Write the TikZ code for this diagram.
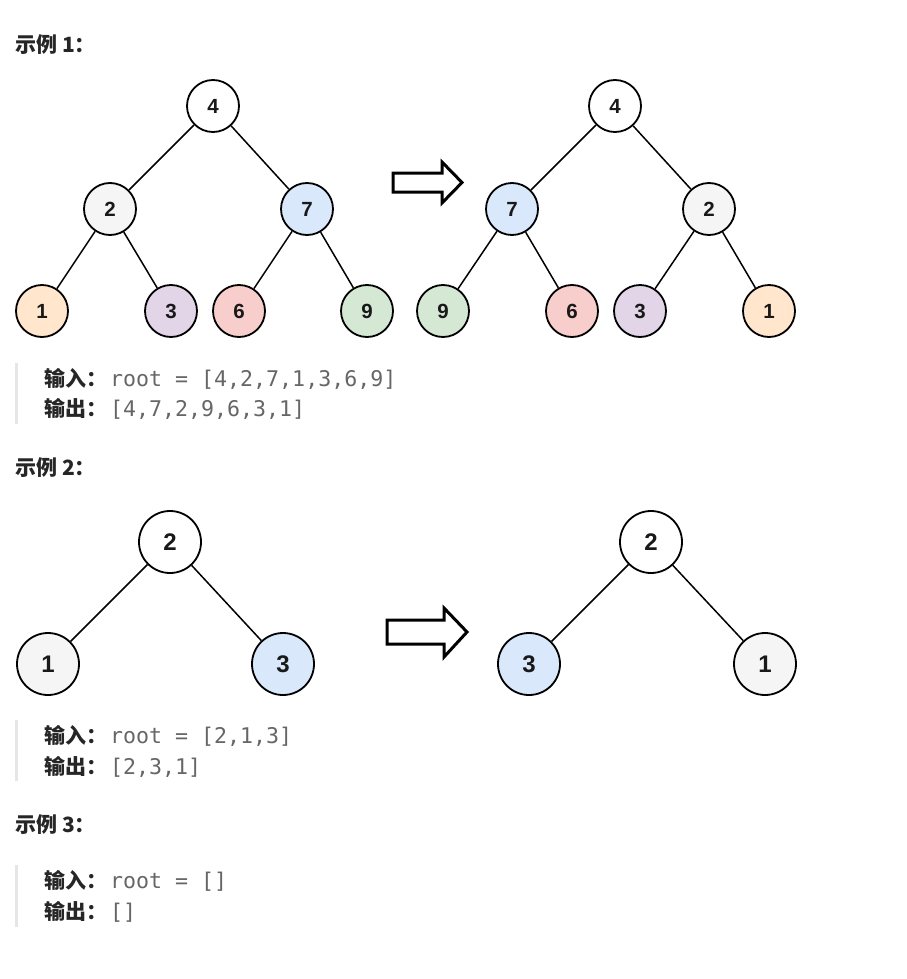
\documentclass[tikz,border=0pt]{standalone}
\usepackage{fontspec}
\setmainfont{Liberation Sans}
\newfontfamily\cjk{Noto Sans CJK SC}
\newfontfamily\mono{DejaVu Sans Mono}
\definecolor{cwhite}{HTML}{FFFFFF}
\definecolor{corange}{HTML}{FFE6CC}
\definecolor{cpurple}{HTML}{E1D5E7}
\definecolor{cred}{HTML}{F8CECC}
\definecolor{cgreen}{HTML}{D5E8D4}
\definecolor{cblue}{HTML}{DAE8FC}
\definecolor{cgray}{HTML}{F5F5F5}
\definecolor{titletext}{HTML}{262626}
\definecolor{codetext}{HTML}{666666}
\definecolor{barcol}{HTML}{E6E6E6}
\tikzset{
	tnode/.style={circle, draw=black, line width=1.8pt, minimum size=52pt, inner sep=0pt,
		text=black!90, font=\bfseries\fontsize{20.5}{20.5}\selectfont},
	bignode/.style={tnode, minimum size=62pt, font=\bfseries\fontsize{24}{24}\selectfont},
	edge/.style={line width=1.5pt},
	bigarrow/.style={line width=3pt, fill=white, line join=miter},
	title/.style={anchor=base west, inner sep=0pt, text=titletext,
		font=\cjk\bfseries\fontsize{21}{21}\selectfont},
	iokey/.style={anchor=base west, inner sep=0pt, text=titletext,
		font=\cjk\bfseries\fontsize{21}{21}\selectfont},
	iocode/.style={anchor=base west, inner sep=0pt, text=codetext,
		font=\mono\fontsize{21.6}{21.6}\selectfont}
}
\begin{document}
\begin{tikzpicture}[x=1pt, y=-1pt]
	\useasboundingbox (0,0) rectangle (906,979);
	% example 1
	\node[title] (t1) at (15,53) {示例 1：};
	\node[tnode, fill=cwhite] (a4) at (213,106) {4};
	\node[tnode, fill=cgray] (a2) at (110,209) {2};
	\node[tnode, fill=cblue] (a7) at (307,209) {7};
	\node[tnode, fill=corange] (a1) at (42,311) {1};
	\node[tnode, fill=cpurple] (a3) at (171,311) {3};
	\node[tnode, fill=cred] (a6) at (239,311) {6};
	\node[tnode, fill=cgreen] (a9) at (367,311) {9};
	\foreach \p/\c in {a4/a2, a4/a7, a2/a1, a2/a3, a7/a6, a7/a9}
		\draw[edge] (\p) -- (\c);
	\draw[bigarrow] (393,173) -- (442,173) -- (442,162) -- (462,182.5) -- (442,203) -- (442,192) -- (393,192) -- cycle;
	\node[tnode, fill=cwhite] (b4) at (615,106) {4};
	\node[tnode, fill=cblue] (b7) at (512,209) {7};
	\node[tnode, fill=cgray] (b2) at (709,209) {2};
	\node[tnode, fill=cgreen] (b9) at (443,311) {9};
	\node[tnode, fill=cred] (b6) at (572,311) {6};
	\node[tnode, fill=cpurple] (b3) at (640,311) {3};
	\node[tnode, fill=corange] (b1) at (769,311) {1};
	\foreach \p/\c in {b4/b7, b4/b2, b7/b9, b7/b6, b2/b3, b2/b1}
		\draw[edge] (\p) -- (\c);
	\node[iokey] (in1) at (44,386) {输入：};
	\node[iocode] (inv1) at (110,386) {root = [4,2,7,1,3,6,9]};
	\node[iokey] (out1) at (44,416) {输出：};
	\node[iocode] (outv1) at (110,416) {[4,7,2,9,6,3,1]};
	% example 2
	\node[title] (t2) at (15,475) {示例 2：};
	\node[bignode, fill=cwhite] (c2) at (170,542) {2};
	\node[bignode, fill=cgray] (c1) at (48,664) {1};
	\node[bignode, fill=cblue] (c3) at (283,664) {3};
	\draw[edge] (c2) -- (c1);
	\draw[edge] (c2) -- (c3);
	\draw[bigarrow] (387,620) -- (444,620) -- (444,608) -- (467,632) -- (444,657) -- (444,644) -- (387,644) -- cycle;
	\node[bignode, fill=cwhite] (d2) at (651,542) {2};
	\node[bignode, fill=cblue] (d3) at (529,664) {3};
	\node[bignode, fill=cgray] (d1) at (765,664) {1};
	\draw[edge] (d2) -- (d3);
	\draw[edge] (d2) -- (d1);
	\node[iokey] (in2) at (44,743) {输入：};
	\node[iocode] (inv2) at (110,743) {root = [2,1,3]};
	\node[iokey] (out2) at (44,774) {输出：};
	\node[iocode] (outv2) at (110,774) {[2,3,1]};
	% example 3
	\node[title] (t3) at (15,832) {示例 3：};
	\node[iokey] (in3) at (44,888) {输入：};
	\node[iocode] (inv3) at (110,888) {root = []};
	\node[iokey] (out3) at (44,919) {输出：};
	\node[iocode] (outv3) at (110,919) {[]};
	% quote bars
	\foreach \top/\bot in {363/424, 720/781, 865/927}
		\fill[barcol] (15,\top) rectangle (18,\bot);
\end{tikzpicture}
\end{document}
